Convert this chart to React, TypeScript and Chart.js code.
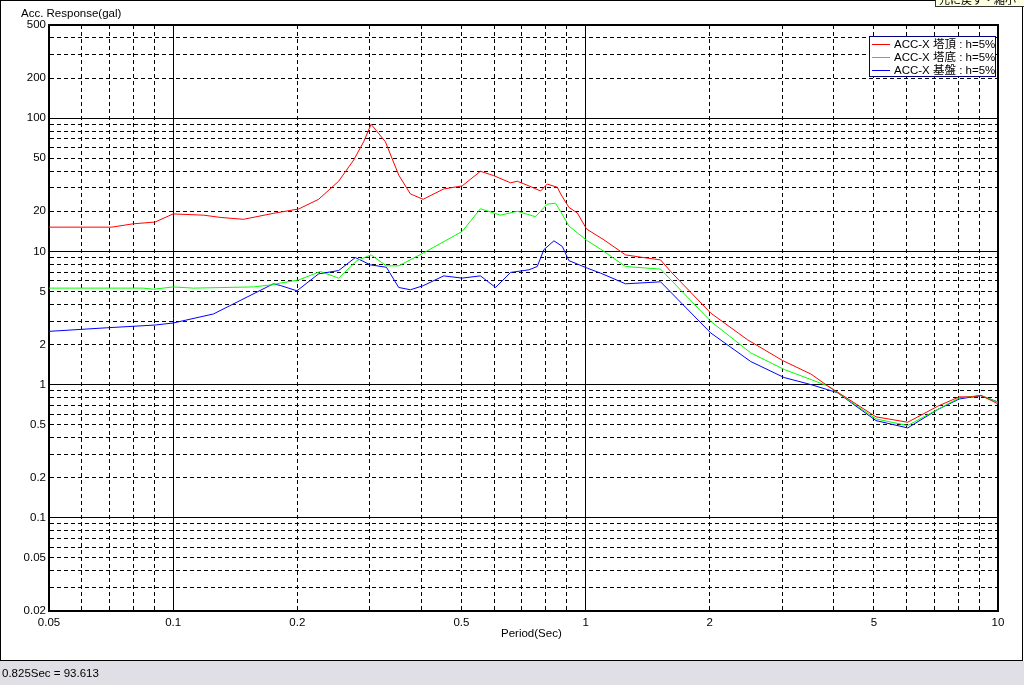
import React, { useEffect, useRef } from "react";
import { Chart, registerables } from "chart.js";

Chart.register(...registerables);

// ---- data (periods in sec, acceleration response in gal) ----
const periodTop = [0.05, 0.071, 0.08, 0.0904, 0.1, 0.1185, 0.13, 0.148, 0.175, 0.2015, 0.2253, 0.2519, 0.274, 0.2897, 0.302, 0.327, 0.3523, 0.376, 0.4037, 0.4529, 0.502, 0.556, 0.599, 0.658, 0.683, 0.729, 0.778, 0.807, 0.854, 0.87, 0.911, 0.955, 1.006, 1.108, 1.25, 1.36, 1.52, 1.608, 2.012, 2.47, 3.0, 3.52, 3.86, 4.08, 5.06, 6.04, 7.14, 8.05, 8.68, 9.09, 10.0];
const accTop = [15.2, 15.2, 16.1, 16.6, 19.1, 18.7, 18.0, 17.4, 19.3, 20.8, 24.6, 33.6, 48.5, 66.5, 90, 66.5, 37.4, 27.0, 24.6, 29.4, 31.0, 39.9, 37.0, 32.7, 33.6, 31.0, 28.4, 32.0, 30.3, 27.0, 21.4, 19.4, 14.7, 12.2, 9.41, 9.05, 8.63, 7.06, 3.44, 2.17, 1.52, 1.2, 0.98, 0.88, 0.573, 0.522, 0.688, 0.809, 0.809, 0.83, 0.717];

const periodMid = [0.05, 0.0846, 0.0896, 0.1, 0.112, 0.1566, 0.175, 0.1818, 0.2015, 0.2274, 0.2519, 0.2791, 0.302, 0.3289, 0.3523, 0.4037, 0.502, 0.556, 0.622, 0.683, 0.722, 0.756, 0.807, 0.8456, 0.87, 0.911, 1.01, 1.087, 1.25, 1.52, 2.012, 2.515, 3.03, 3.86, 5.06, 6.04, 8.05, 9.09, 10.0];
const accMid = [5.3, 5.3, 5.2, 5.41, 5.3, 5.41, 5.63, 5.78, 6.1, 7.06, 6.3, 8.53, 9.41, 7.79, 7.79, 9.7, 14.1, 20.9, 18.7, 20.0, 19.0, 18.2, 22.6, 23.0, 19.9, 15.5, 12.0, 10.4, 7.7, 7.36, 2.98, 1.73, 1.3, 0.98, 0.553, 0.493, 0.795, 0.83, 0.737];

const periodBase = [0.05, 0.069, 0.0904, 0.1, 0.1252, 0.175, 0.1818, 0.1996, 0.2253, 0.2519, 0.2765, 0.3007, 0.3289, 0.3523, 0.376, 0.4037, 0.4529, 0.502, 0.556, 0.605, 0.658, 0.729, 0.7634, 0.7923, 0.838, 0.878, 0.911, 1.01, 1.087, 1.25, 1.52, 2.012, 2.515, 3.03, 3.52, 4.08, 5.06, 6.04, 7.14, 8.05, 9.09, 10.0];
const accBase = [2.51, 2.67, 2.8, 2.9, 3.39, 5.71, 5.55, 5.06, 6.78, 7.18, 8.99, 7.92, 7.6, 5.36, 5.15, 5.52, 6.55, 6.3, 6.55, 5.36, 6.95, 7.27, 7.7, 10.3, 12.0, 10.9, 8.53, 7.48, 6.87, 5.71, 5.91, 2.44, 1.49, 1.13, 1.0, 0.87, 0.537, 0.473, 0.65, 0.78, 0.827, 0.74];

const seriesNames = ["ACC-X 塔頂 : h=5%", "ACC-X 塔底 : h=5%", "ACC-X 基盤 : h=5%"];
const seriesColors = ["#ff0000", "#00ff00", "#0000ff"];

// ---- axes ----
const xTickValues = [0.05, 0.06, 0.07, 0.08, 0.09, 0.1, 0.2, 0.3, 0.4, 0.5, 0.6, 0.7, 0.8, 0.9, 1, 2, 3, 4, 5, 6, 7, 8, 9, 10];
const xLabelValues = [0.05, 0.1, 0.2, 0.5, 1, 2, 5, 10];
const xMajorValues = [0.1, 1, 10];
const yTickValues = [0.02, 0.03, 0.04, 0.05, 0.06, 0.07, 0.08, 0.09, 0.1, 0.2, 0.3, 0.4, 0.5, 0.6, 0.7, 0.8, 0.9, 1, 2, 3, 4, 5, 6, 7, 8, 9, 10, 20, 30, 40, 50, 60, 70, 80, 90, 100, 200, 300, 400, 500];
const yLabelValues = [0.02, 0.05, 0.1, 0.2, 0.5, 1, 2, 5, 10, 20, 50, 100, 200, 500];
const yMajorValues = [0.1, 1, 10, 100];

const xTitle = "Period(Sec)";
const yTitle = "Acc. Response(gal)";
const statusText = "0.825Sec = 93.613";
const tipText = "元に戻す・縮小";

const FONT = "'Liberation Sans', Arial, 'Noto Sans CJK JP', sans-serif";
const FS = 11.5;

export default function App() {
  const ref = useRef<HTMLCanvasElement>(null);

  const series = [
    { name: seriesNames[0], color: seriesColors[0], periods: periodTop, values: accTop },
    { name: seriesNames[1], color: seriesColors[1], periods: periodMid, values: accMid },
    { name: seriesNames[2], color: seriesColors[2], periods: periodBase, values: accBase },
  ];

  useEffect(() => {
    const canvas = ref.current;
    if (!canvas) return;
    const font = { family: FONT, size: FS };
    const chart = new Chart(canvas, {
      type: "line",
      data: {
        datasets: series.map((s) => ({
          label: s.name,
          data: s.periods.map((p, i) => ({ x: p, y: s.values[i] })),
          borderColor: s.color,
          backgroundColor: s.color,
          borderWidth: 1,
          pointRadius: 0,
          tension: 0,
          fill: false,
          xAxisID: "x",
          yAxisID: "y",
        })),
      },
      options: {
        responsive: false,
        animation: false,
        devicePixelRatio: 1,
        events: [],
        layout: { padding: { top: 25, right: 24, left: 0, bottom: 0 } },
        plugins: { legend: { display: false }, tooltip: { enabled: false } },
        scales: {
          x: {
            type: "logarithmic",
            axis: "x",
            position: "bottom",
            min: 0.05,
            max: 10,
            afterBuildTicks: (s: any) => {
              s.ticks = xTickValues.map((v) => ({ value: v }));
            },
            afterFit: (s: any) => {
              s.height = 49;
            },
            ticks: {
              autoSkip: false,
              maxRotation: 0,
              minRotation: 0,
              padding: 5,
              color: "#000",
              font,
              callback: (v: any) => (xLabelValues.includes(Number(v)) ? String(v) : ""),
            },
            grid: { color: "#000", lineWidth: 1, drawTicks: false },
            border: { display: true, color: "#000", width: 2, dash: [4, 3] },
          },
          xMajor: {
            type: "logarithmic",
            axis: "x",
            position: "top",
            min: 0.05,
            max: 10,
            afterBuildTicks: (s: any) => {
              s.ticks = xMajorValues.map((v) => ({ value: v }));
            },
            afterFit: (s: any) => {
              s.height = 0;
            },
            ticks: { display: false },
            grid: { color: "#000", lineWidth: 1, drawTicks: false },
            border: { display: true, color: "#000", width: 2 },
          },
          y: {
            type: "logarithmic",
            axis: "y",
            position: "left",
            min: 0.02,
            max: 500,
            afterBuildTicks: (s: any) => {
              s.ticks = yTickValues.map((v) => ({ value: v }));
            },
            afterFit: (s: any) => {
              s.width = 49;
            },
            ticks: {
              autoSkip: false,
              padding: 3,
              color: "#000",
              font,
              callback: (v: any) => (yLabelValues.includes(Number(v)) ? String(v) : ""),
            },
            grid: { color: "#000", lineWidth: 1, drawTicks: false },
            border: { display: true, color: "#000", width: 2, dash: [4, 3] },
          },
          yMajor: {
            type: "logarithmic",
            axis: "y",
            position: "right",
            min: 0.02,
            max: 500,
            afterBuildTicks: (s: any) => {
              s.ticks = yMajorValues.map((v) => ({ value: v }));
            },
            afterFit: (s: any) => {
              s.width = 0;
            },
            ticks: { display: false },
            grid: { color: "#000", lineWidth: 1, drawTicks: false },
            border: { display: true, color: "#000", width: 2 },
          },
        },
      } as any,
    });
    return () => chart.destroy();
  }, []);

  const txt: React.CSSProperties = {
    position: "absolute",
    fontFamily: FONT,
    fontSize: FS,
    lineHeight: "14px",
    color: "#000",
    whiteSpace: "nowrap",
  };

  return (
    <div
      style={{
        position: "fixed",
        left: 0,
        top: 0,
        width: 1024,
        height: 685,
        background: "#fff",
        overflow: "hidden",
      }}
    >
      <canvas
        ref={ref}
        width={1022}
        height={660}
        style={{ position: "absolute", left: 0, top: 0, display: "block" }}
      />
      <div
        style={{
          position: "absolute",
          left: 0,
          top: 0,
          width: 1023,
          height: 661,
          border: "1px solid #000",
          boxSizing: "border-box",
          pointerEvents: "none",
        }}
      />
      <div style={{ ...txt, left: 21, top: 6 }}>{yTitle}</div>
      <div style={{ ...txt, left: 501, top: 626 }}>{xTitle}</div>

      {/* legend */}
      <div
        style={{
          position: "absolute",
          left: 869,
          top: 36,
          width: 127,
          height: 41,
          background: "#fff",
          border: "1px solid #000080",
          boxSizing: "border-box",
        }}
      >
        {series.map((s, i) => (
          <div
            key={i}
            style={{
              position: "absolute",
              left: 1,
              top: 0.5 + i * 13.33,
              height: 13.33,
              display: "flex",
              alignItems: "center",
              fontFamily: FONT,
              fontSize: FS,
              whiteSpace: "nowrap",
              color: "#000",
            }}
          >
            <div style={{ width: 18, height: 1, background: s.color, marginLeft: 1, marginRight: 4 }} />
            <span style={{ lineHeight: "13px" }}>{s.name}</span>
          </div>
        ))}
      </div>

      {/* status bar */}
      <div
        style={{
          position: "absolute",
          left: 0,
          top: 661,
          width: 1024,
          height: 24,
          background: "#dfdfe5",
        }}
      >
        <div style={{ ...txt, left: 2, top: 5 }}>{statusText}</div>
      </div>

      {/* tooltip remnant at top right */}
      <div
        style={{
          position: "absolute",
          left: 935,
          top: -1,
          width: 95,
          height: 8,
          background: "#ffffe1",
          border: "1px solid #333",
          boxSizing: "border-box",
          overflow: "hidden",
        }}
      >
        <div
          style={{
            position: "absolute",
            left: 3,
            top: -7,
            fontFamily: "'Noto Sans CJK JP', sans-serif",
            fontSize: 11,
            lineHeight: "12px",
            whiteSpace: "nowrap",
            color: "#000",
          }}
        >
          {tipText}
        </div>
      </div>
    </div>
  );
}
